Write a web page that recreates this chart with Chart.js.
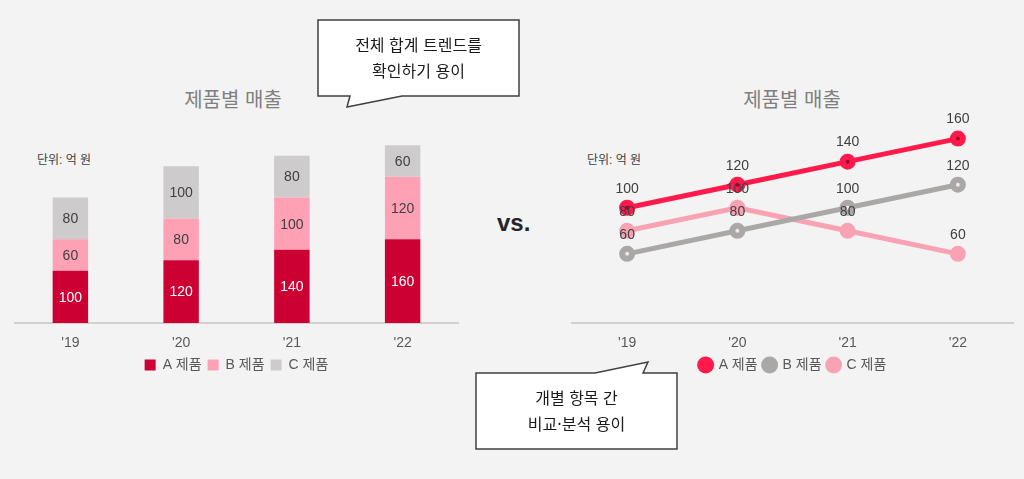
<!DOCTYPE html>
<html lang="ko">
<head>
<meta charset="utf-8">
<script src="https://cdn.jsdelivr.net/npm/chart.js@4/dist/chart.umd.min.js"></script>
<style>
  html, body { margin: 0; padding: 0; }
  body { width: 1024px; height: 479px; background: #f3f3f3; position: relative; overflow: hidden;
         font-family: "Liberation Sans", "Noto Sans CJK KR", sans-serif; }
  .title { position: absolute; top: 84px; font-size: 20px; color: #7f7f7f; font-family: "Noto Sans CJK KR", sans-serif; text-align: center; width: 200px; }
  .unit { position: absolute; top: 150px; font-size: 12px; color: #404040; }
  .vs { position: absolute; left: 497px; top: 209px; font-size: 24px; font-weight: bold; color: #262626; }
  canvas { position: absolute; }
  svg { position: absolute; left: 0; top: 0; }
  .note { position: absolute; font-size: 16px; color: #1a1a1a; text-align: center; line-height: 26px; font-family: "Noto Sans CJK KR", sans-serif; }
</style>
</head>
<body>
<div class="title" style="left:133px">제품별 매출</div>
<div class="title" style="left:692px">제품별 매출</div>
<div class="unit" style="left:37px">단위: 억 원</div>
<div class="unit" style="left:587px">단위: 억 원</div>
<div class="vs">vs.</div>

<div style="position:absolute;left:0;top:93px;width:470px;height:289px"><canvas id="stackChart"></canvas></div>
<div style="position:absolute;left:560px;top:93px;width:464px;height:289px"><canvas id="lineChart"></canvas></div>

<svg width="1024" height="479">
  <path d="M318,20 H519 V96 H402 L347,107 L350,96 H318 Z" fill="#fff" stroke="#404040" stroke-width="1.5"/>
  <path d="M476,373 H595 L648,362 L643,373 H677 V449 H476 Z" fill="#fff" stroke="#404040" stroke-width="1.5"/>
</svg>
<div class="note" style="left:318px;top:31px;width:201px">전체 합계 트렌드를<br>확인하기 용이</div>
<div class="note" style="left:476px;top:384px;width:201px">개별 항목 간<br>비교·분석 용이</div>

<script>
// 제품별 매출 (단위: 억 원)
const years = ["'19", "'20", "'21", "'22"];
const seriesNames = ['A 제품', 'B 제품', 'C 제품'];
const salesA = [100, 120, 140, 160];
const salesB = [60, 80, 100, 120];
const salesC = [80, 100, 80, 60];

const FONT = '"Liberation Sans", "Noto Sans CJK KR", sans-serif';

// simple value labels, no datalabels plugin offline
const valueLabels = {
    id: 'valueLabels',
    afterDatasetsDraw(chart, args, opts) {
        const ctx = chart.ctx;
        ctx.save();
        ctx.font = '14px ' + FONT;
        ctx.textAlign = 'center';
        ctx.textBaseline = 'middle';
        chart.data.datasets.forEach((ds, i) => {
            const meta = chart.getDatasetMeta(i);
            meta.data.forEach((el, j) => {
                ctx.fillStyle = opts.colors[i];
                if (opts.mode === 'bar') {
                    ctx.fillText(ds.data[j], el.x, (el.y + el.base) / 2 + 1);
                } else {
                    ctx.fillText(ds.data[j], el.x, el.y - 19);
                }
            });
        });
        ctx.restore();
    }
};

const xAxis = {
    offset: true,
    grid: { display: false },
    border: { color: '#d0d0d0', width: 2 },
    ticks: { color: '#595959', font: { size: 14, family: FONT }, padding: 4 },
    afterFit: (scale) => { scale.height = 29; }
};

new Chart(document.getElementById('stackChart'), {
    type: 'bar',
    data: {
        labels: years,
        datasets: [
            { label: seriesNames[0], data: salesA, backgroundColor: '#cc0033' },
            { label: seriesNames[1], data: salesB, backgroundColor: '#ffa1b4' },
            { label: seriesNames[2], data: salesC, backgroundColor: '#cdcbcb' }
        ]
    },
    options: {
        responsive: true,
        maintainAspectRatio: false,
        animation: false,
        layout: { padding: { left: 15, right: 12, top: 0, bottom: 0 } },
        datasets: { bar: { categoryPercentage: 1, barPercentage: 0.32 } },
        scales: {
            x: { ...xAxis, stacked: true },
            y: { stacked: true, display: false, min: 0, max: 440 }
        },
        plugins: {
            legend: {
                position: 'bottom',
                labels: { color: '#595959', boxWidth: 11, boxHeight: 11, padding: 6,
                          font: { size: 14, family: FONT } }
            },
            tooltip: { enabled: false },
            valueLabels: { mode: 'bar', colors: ['#ffffff', '#404040', '#404040'] }
        }
    },
    plugins: [valueLabels]
});

const lineColors = ['#ff1a4b', '#aaa7a7', '#f9a2b3'];
const dotColors = ['#a3002b', '#f6e4e8', '#f9a2b3'];

new Chart(document.getElementById('lineChart'), {
    type: 'line',
    data: {
        labels: years,
        datasets: [salesA, salesB, salesC].map((d, i) => ({
            label: seriesNames[i],
            data: d,
            borderColor: lineColors[i],
            backgroundColor: lineColors[i],
            borderWidth: 5,
            pointRadius: 5,
            pointBorderWidth: 6,
            pointBorderColor: lineColors[i],
            pointBackgroundColor: dotColors[i],
            tension: 0
        }))
    },
    options: {
        responsive: true,
        maintainAspectRatio: false,
        animation: false,
        layout: { padding: { left: 12, right: 10, top: 0, bottom: 0 } },
        scales: {
            x: xAxis,
            y: { display: false, min: 0, max: 190 }
        },
        plugins: {
            legend: {
                position: 'bottom',
                labels: {
                    color: '#595959', usePointStyle: true, pointStyle: 'circle',
                    boxWidth: 12, boxHeight: 12, padding: 6,
                    font: { size: 14, family: FONT },
                    generateLabels: (chart) => {
                        const items = Chart.defaults.plugins.legend.labels.generateLabels(chart);
                        items.forEach((it, i) => {
                            it.fillStyle = lineColors[i];
                            it.strokeStyle = lineColors[i];
                            it.lineWidth = 0;
                        });
                        return items;
                    }
                }
            },
            tooltip: { enabled: false },
            valueLabels: { mode: 'line', colors: ['#404040', '#404040', '#404040'] }
        }
    },
    plugins: [valueLabels]
});
</script>
</body>
</html>
